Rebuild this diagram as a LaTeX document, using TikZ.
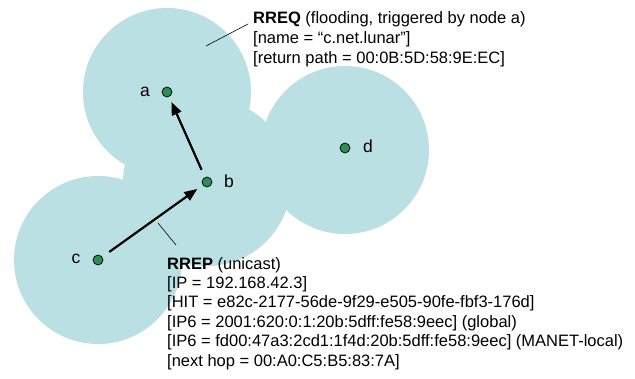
\documentclass[tikz,border=0pt]{standalone}
\usepackage{fontspec}
\setmainfont{Liberation Sans}
\usetikzlibrary{arrows.meta}
\definecolor{cov}{RGB}{187,224,228}
\definecolor{dotg}{RGB}{46,140,88}
\begin{document}
\begin{tikzpicture}[x=1pt,y=-1pt,
  dot/.style={circle,fill=dotg,draw=black,line width=0.7pt,minimum size=10pt,inner sep=0pt},
  lbl/.style={inner sep=0pt,font=\fontsize{17.5}{20}\selectfont},
  txt/.style={inner sep=0pt,align=left,anchor=base west},
  arr/.style={line width=2.2pt,-{Triangle[length=13pt,width=10pt]}},
  ptr/.style={line width=0.6pt}]
\useasboundingbox (0,0) rectangle (635,378);
\fill[cov] (167,92) circle[radius=84pt];
\fill[cov] (345,150) circle[radius=84pt];
\fill[cov] (98,260) circle[radius=84pt];
\fill[cov] (207,182) circle[radius=84pt];
\node[dot] (a) at (167,92) {};
\node[dot] (b) at (207,182) {};
\node[dot] (c) at (98,260) {};
\node[dot] (d) at (345,148) {};
\node[lbl] (la) at (145,92) {a};
\node[lbl] (lb) at (229,181) {b};
\node[lbl] (lc) at (76,259) {c};
\node[lbl] (ld) at (368,146) {d};
\draw[arr,shorten <=8.5pt,shorten >=6.5pt] (c) -- (b);
\draw[arr,shorten <=8pt,shorten >=5.5pt] (b) -- (a);
\node[txt,font=\fontsize{16.5}{20}\selectfont] (rreq) at (253,63)
  {\textbf{RREQ} (flooding, triggered by node a)\\
   {[}name = “c.net.lunar”{]}\\
   {[}return path = 00:0B:5D:58:9E:EC{]}};
\node[txt,font=\fontsize{16.5}{19.4}\selectfont] (rrep) at (167,366)
  {\textbf{RREP} (unicast)\\
   {[}IP = 192.168.42.3{]}\\
   {[}HIT = e82c-2177-56de-9f29-e505-90fe-fbf3-176d{]}\\
   {[}IP6 = 2001:620:0:1:20b:5dff:fe58:9eec{]} (global)\\
   {[}IP6 = fd00:47a3:2cd1:1f4d:20b:5dff:fe58:9eec{]} (MANET-local)\\
   {[}next hop = 00:A0:C5:B5:83:7A{]}};
\coordinate (pq1) at (206,46);
\coordinate (pq2) at (248,24);
\coordinate (pp1) at (158,223);
\coordinate (pp2) at (176,245);
\draw[ptr] (pq1) -- (pq2);
\draw[ptr] (pp1) -- (pp2);
\end{tikzpicture}
\end{document}
